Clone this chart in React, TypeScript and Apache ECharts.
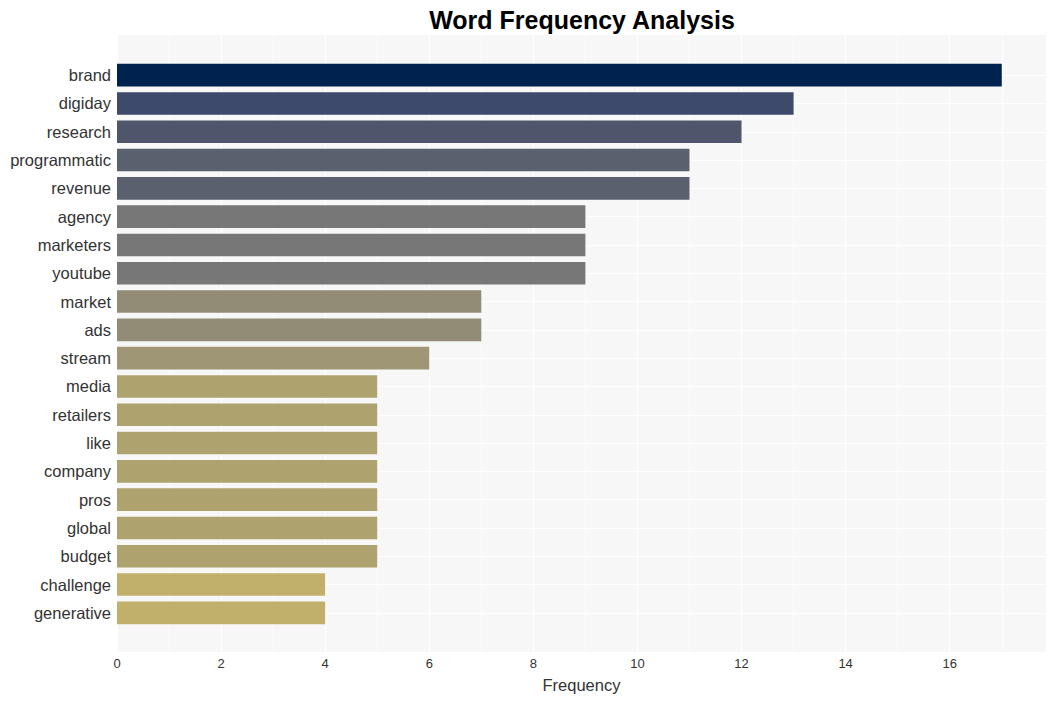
import React, { useEffect, useRef } from "react";
import * as echarts from "echarts";

const words = [
  "brand", "digiday", "research", "programmatic", "revenue",
  "agency", "marketers", "youtube", "market", "ads",
  "stream", "media", "retailers", "like", "company",
  "pros", "global", "budget", "challenge", "generative",
];
const counts = [17, 13, 12, 11, 11, 9, 9, 9, 7, 7, 6, 5, 5, 5, 5, 5, 5, 5, 4, 4];
const barColors = [
  "#00224e", "#3d4a6b", "#4f566b", "#5b606e", "#5b606e",
  "#777777", "#777777", "#777777", "#928b76", "#928b76",
  "#9e9674", "#aea36f", "#aea36f", "#aea36f", "#aea36f",
  "#aea36f", "#aea36f", "#aea36f", "#c1b06b", "#c1b06b",
];
const xMax = 17.85;
const FONT = "'Liberation Sans', Arial, sans-serif";

export default function App() {
  const ref = useRef<HTMLDivElement>(null);
  useEffect(() => {
    if (!ref.current) return;
    const chart = echarts.init(ref.current, undefined, { renderer: "svg" });
    chart.setOption({
      animation: false,
      backgroundColor: "#ffffff",
      textStyle: { fontFamily: FONT },
      graphic: [
        {
          type: "text",
          x: 582,
          y: 20,
          style: {
            text: "Word Frequency Analysis",
            fontFamily: FONT,
            fontWeight: "bold",
            fontSize: 25,
            fill: "#000000",
            textAlign: "center",
            textVerticalAlign: "middle",
          },
        },
      ],
      grid: [
        { left: 117, right: 10, top: 35, height: 617, show: true, backgroundColor: "#f7f7f7", borderWidth: 0 },
        { left: 117, right: 10, top: 61, height: 566 },
      ],
      xAxis: [
        {
          type: "value",
          gridIndex: 0,
          min: 0,
          max: xMax,
          interval: 1,
          axisLine: { show: false },
          axisTick: { show: false },
          axisLabel: {
            fontSize: 13,
            color: "#333333",
            margin: 5,
            formatter: (v: number) => (Number.isInteger(v) && v % 2 === 0 ? String(v) : ""),
          },
          splitLine: { show: true, lineStyle: { color: ["#ffffff", "#fcfcfc"], width: 1.2 } },
          name: "Frequency",
          nameLocation: "middle",
          nameGap: 24,
          nameTextStyle: { fontSize: 16.5, color: "#333333" },
        },
        {
          type: "value",
          gridIndex: 1,
          min: 0,
          max: xMax,
          show: false,
          splitLine: { show: false },
        },
      ],
      yAxis: [
        { type: "value", gridIndex: 0, min: 0, max: 1, show: false, splitLine: { show: false } },
        {
          type: "category",
          gridIndex: 1,
          inverse: true,
          data: words,
          axisLine: { show: false },
          axisTick: { show: false },
          axisLabel: { fontSize: 16.5, color: "#333333", margin: 6 },
          splitLine: { show: true, alignWithLabel: true, lineStyle: { color: "#ffffff", width: 1 } },
        },
      ],
      series: [
        {
          type: "bar",
          xAxisIndex: 1,
          yAxisIndex: 1,
          barWidth: "80%",
          data: counts.map((v, i) => ({ value: v, itemStyle: { color: barColors[i] } })),
        },
      ],
    });
    return () => chart.dispose();
  }, []);
  return (
    <div
      ref={ref}
      style={{ position: "fixed", left: 0, top: 0, width: 1056, height: 701 }}
    />
  );
}
